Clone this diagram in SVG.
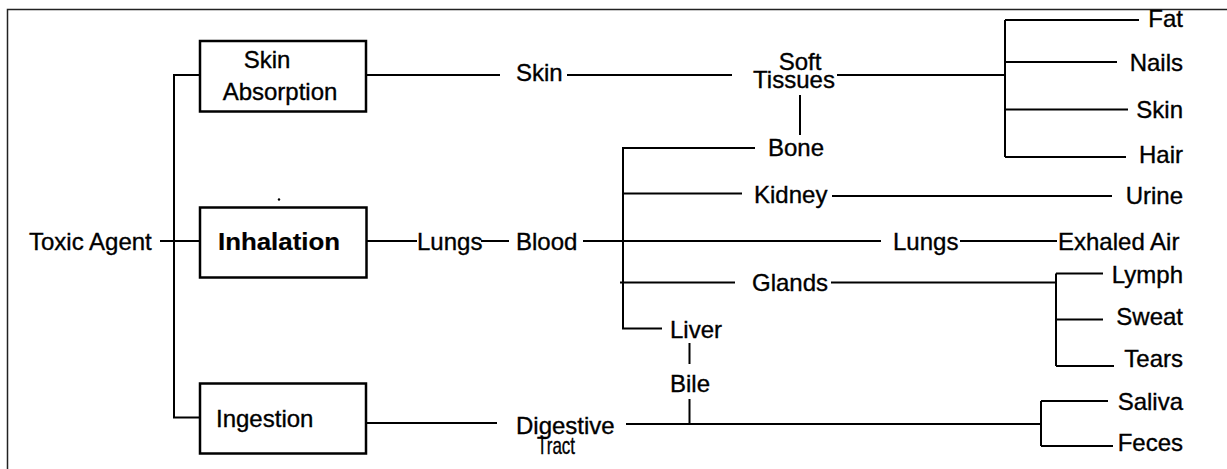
<svg xmlns="http://www.w3.org/2000/svg" width="1227" height="469" viewBox="0 0 1227 469">
<style>
text{font-family:"Liberation Sans",Arial,sans-serif;font-size:24px;fill:#000;stroke:#000;stroke-width:0.35}
.r{text-anchor:end}
.m{text-anchor:middle}
.b{font-weight:bold;stroke-width:0.2}
.box{fill:none;stroke:#000;stroke-width:2.5}
#connectors path{fill:none;stroke:#000;stroke-width:2}
</style>
<rect width="1227" height="469" fill="#fff"/>
<path d="M7.5 469V9.5H1227" fill="none" stroke="#222" stroke-width="1.5"/>
<g id="connectors">
<path d="M200 75H174V417.5H200M160 241H200"/>
<path d="M366 75H500M567 75H732M837 75H1005M800 95V135"/>
<path d="M1005 20V157M1005 20H1139M1005 62H1117M1005 109.5H1128M1005 157H1126"/>
<path d="M367 241H417M481 241H509M583 241H881M960 241H1057"/>
<path d="M755 148H623V328.5H662M623 193.5H742M620 282.5H735"/>
<path d="M832 196H1112"/>
<path d="M831 282.5H1056M1056 273.5V366M1056 273.5H1103M1056 319.5H1103M1056 366H1114"/>
<path d="M689.5 343V364M689.5 399V424"/>
<path d="M366 423H497M626 424H1041M1041 401V446M1041 401H1108M1041 446H1113"/>
</g>
<g id="toxic-agent"><text x="29" y="250">Toxic Agent</text></g>
<g id="skin-absorption">
<rect class="box" x="200" y="41" width="166" height="70.5"/>
<text class="m" x="267" y="68">Skin</text>
<text class="m" x="280" y="100">Absorption</text>
</g>
<g id="inhalation">
<rect class="box" x="200" y="207.5" width="166.5" height="70"/>
<circle cx="279" cy="199.5" r="1.2"/>
<text class="b" x="218" y="250" textLength="122" lengthAdjust="spacingAndGlyphs">Inhalation</text>
</g>
<g id="ingestion">
<rect class="box" x="200" y="383.5" width="166" height="70"/>
<text x="216" y="427">Ingestion</text>
</g>
<g id="skin"><text x="516" y="81">Skin</text></g>
<g id="soft-tissues">
<text class="m" x="800" y="70">Soft</text>
<text class="m" x="794" y="88">Tissues</text>
</g>
<g id="fat"><text class="r" x="1183" y="27">Fat</text></g>
<g id="nails"><text class="r" x="1183" y="71">Nails</text></g>
<g id="skin2"><text class="r" x="1183" y="118">Skin</text></g>
<g id="hair"><text class="r" x="1183" y="163">Hair</text></g>
<g id="bone"><text x="768" y="156">Bone</text></g>
<g id="kidney"><text x="754" y="203">Kidney</text></g>
<g id="urine"><text class="r" x="1183" y="204">Urine</text></g>
<g id="lungs"><text x="417" y="250">Lungs</text></g>
<g id="blood"><text x="516" y="250">Blood</text></g>
<g id="lungs2"><text x="893" y="250">Lungs</text></g>
<g id="exhaled-air"><text x="1058" y="250">Exhaled Air</text></g>
<g id="glands"><text x="752" y="291">Glands</text></g>
<g id="lymph"><text class="r" x="1183" y="283">Lymph</text></g>
<g id="sweat"><text class="r" x="1183" y="325">Sweat</text></g>
<g id="tears"><text class="r" x="1183" y="367">Tears</text></g>
<g id="liver"><text x="670" y="338">Liver</text></g>
<g id="bile"><text x="670" y="392">Bile</text></g>
<g id="digestive-tract">
<text x="516" y="434">Digestive</text>
<text x="537" y="454" textLength="38" lengthAdjust="spacingAndGlyphs">Tract</text>
</g>
<g id="saliva"><text class="r" x="1183" y="410">Saliva</text></g>
<g id="feces"><text class="r" x="1183" y="451">Feces</text></g>
</svg>
